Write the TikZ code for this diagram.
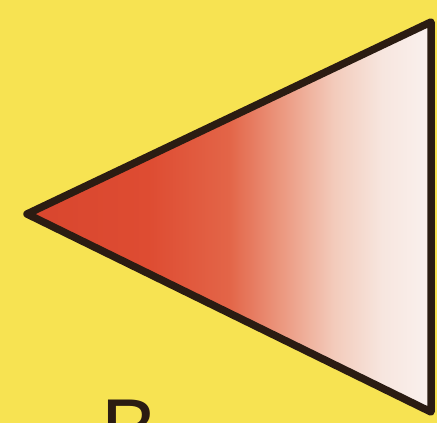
\documentclass[tikz,border=0pt]{standalone}
\usepackage{fontspec}
\setsansfont{Liberation Sans}
\definecolor{bgyellow}{HTML}{F7E352}
\definecolor{edgecol}{HTML}{2B1C12}
\definecolor{rA}{HTML}{D8462E}
\definecolor{rB}{HTML}{DE4C32}
\definecolor{rC}{HTML}{E36548}
\definecolor{rD}{HTML}{EC9C84}
\definecolor{rE}{HTML}{F3CBBB}
\definecolor{rF}{HTML}{F7E6DF}
\definecolor{rG}{HTML}{FAF1EE}
\pgfdeclarehorizontalshading{redfade}{100bp}{color(0bp)=(rA); color(25bp)=(rA); color(40bp)=(rB); color(50bp)=(rC); color(57bp)=(rD); color(63bp)=(rE); color(69bp)=(rF); color(75bp)=(rG); color(100bp)=(rG)}
\tikzset{
  tri/.style={draw=edgecol, line width=7.5pt, line join=round, shading=redfade},
  letter/.style={font=\sffamily\fontsize{85}{85}\selectfont, text=edgecol, inner sep=0pt}
}
\begin{document}
\begin{tikzpicture}[x=1pt,y=1pt]
\useasboundingbox (0,0) rectangle (437,423);
\fill[bgyellow] (0,0) rectangle (437,423);
\clip (0,0) rectangle (437,423);
\coordinate (tip) at (27,209);
\coordinate (tr) at (431,401);
\coordinate (br) at (431,11);
\draw[tri] (tip) -- (tr) -- (br) -- cycle;
\node[letter, anchor=base west] (lab) at (101,-36) {B};
\end{tikzpicture}
\end{document}
